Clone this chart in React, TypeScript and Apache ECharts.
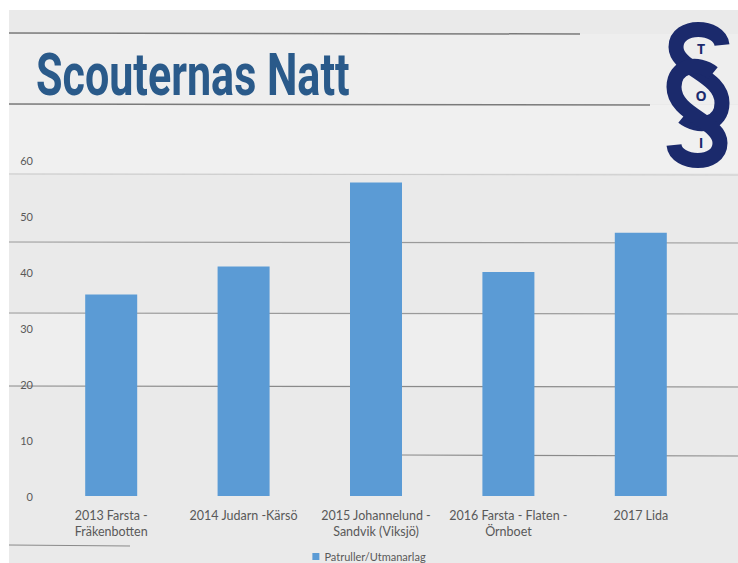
import React, { useEffect, useRef } from "react";
import * as echarts from "echarts";

const categories = [
  "2013 Farsta -\nFräkenbotten",
  "2014 Judarn -Kärsö",
  "2015 Johannelund -\nSandvik (Viksjö)",
  "2016 Farsta - Flaten -\nÖrnboet",
  "2017 Lida",
];
const values = [36, 41, 56, 40, 47];
const seriesName = "Patruller/Utmanarlag";
const titleText = "Scouternas Natt";
const logoLetters = ["T", "O", "I"];

export default function App() {
  const ref = useRef<HTMLDivElement>(null);
  useEffect(() => {
    if (!ref.current) return;
    const chart = echarts.init(ref.current, undefined, { renderer: "svg" });
    const plank = (y: number, x1: number, x2: number, c = "#8c8c8c", w = 1.2) => ({
      type: "line",
      silent: true,
      z: -1,
      shape: { x1, y1: y, x2, y2: y + 1 },
      style: { stroke: c, lineWidth: w },
    });
    const navy = "#1b2a6c";
    // section sign drawn as stroked cubic segments around a centre
    const cx = 698;
    const cy = 95;
    const upperS: number[][] = [
      [24, -50, 22, -70, -22, -72, -22, -48],
      [-22, -48, -22, -26, 24, -20, 24, 8],
      [24, 8, 24, 30, 0, 34, -15, 22],
    ];
    const segs = upperS.concat(upperS.map((s) => s.map((v) => -v)));
    const logoCurves = segs.map((s) => ({
      type: "bezierCurve",
      silent: true,
      z: 5,
      shape: {
        x1: cx + s[0], y1: cy + s[1],
        cpx1: cx + s[2], cpy1: cy + s[3],
        cpx2: cx + s[4], cpy2: cy + s[5],
        x2: cx + s[6], y2: cy + s[7],
      },
      style: { stroke: navy, lineWidth: 15, fill: "none", lineCap: "butt" },
    }));
    const letters = logoLetters.map((t, i) => ({
      type: "text",
      z: 6,
      x: 701,
      y: 48 + i * 47,
      style: { text: t, font: "bold 14px 'Open Sans'", fill: navy, align: "center", verticalAlign: "middle" },
    }));
    chart.setOption({
      animation: false,
      backgroundColor: "#eaeaea",
      graphic: [
        { type: "rect", z: -2, silent: true, shape: { x: 0, y: 0, width: 738, height: 10 }, style: { fill: "#ffffff" } },
        { type: "rect", z: -2, silent: true, shape: { x: 0, y: 0, width: 9, height: 563 }, style: { fill: "#ffffff" } },
        { type: "rect", z: -2, silent: true, shape: { x: 9, y: 105, width: 729, height: 68 }, style: { fill: "#f0f0f0" } },
        { type: "rect", z: -2, silent: true, shape: { x: 9, y: 34, width: 729, height: 70 }, style: { fill: "#eeeeee" } },
        { type: "rect", z: -2, silent: true, shape: { x: 9, y: 314, width: 729, height: 72 }, style: { fill: "#eeeeee" } },
        plank(33, 9, 580, "#7a7a7a", 1.5),
        plank(104, 9, 650, "#7a7a7a", 1.5),
        plank(174, 9, 738, "#c9c9c9", 1),
        plank(242, 9, 738, "#9a9a9a", 1.2),
        plank(313, 9, 738, "#9a9a9a", 1.2),
        plank(386, 9, 738, "#8a8a8a", 1.2),
        plank(455, 400, 738, "#8a8a8a", 1.2),
        plank(545, 9, 130, "#8a8a8a", 1),
        {
          type: "text",
          x: 36,
          y: 46,
          scaleX: 0.73,
          style: {
            text: titleText,
            font: "bold 59px Roboto",
            fill: "#2a5a8a",
            verticalAlign: "top",
          },
        },
        ...logoCurves,
        ...letters,
      ],
      grid: { left: 45, right: 31, top: 160, bottom: 67, containLabel: false },
      legend: {
        top: 551,
        left: "center",
        padding: 0,
        icon: "rect",
        itemWidth: 7,
        itemHeight: 7,
        itemGap: 5,
        textStyle: { color: "#595959", fontSize: 11, fontFamily: "Lato" },
        data: [seriesName],
      },
      xAxis: {
        type: "category",
        data: categories,
        axisLine: { show: false },
        axisTick: { show: false },
        axisLabel: {
          color: "#595959",
          fontSize: 12.5,
          fontFamily: "Lato",
          margin: 11,
          lineHeight: 16,
          interval: 0,
        },
      },
      yAxis: {
        type: "value",
        min: 0,
        max: 60,
        interval: 10,
        axisLine: { show: false },
        axisTick: { show: false },
        splitLine: { show: false },
        axisLabel: { color: "#595959", fontSize: 11, fontFamily: "Lato", margin: 12 },
      },
      series: [
        {
          name: seriesName,
          type: "bar",
          data: values,
          barWidth: 52,
          itemStyle: { color: "#5b9bd5" },
        },
      ],
    });
    return () => chart.dispose();
  }, []);
  return (
    <div
      ref={ref}
      style={{ position: "fixed", left: 0, top: 0, width: 738, height: 563 }}
    />
  );
}
